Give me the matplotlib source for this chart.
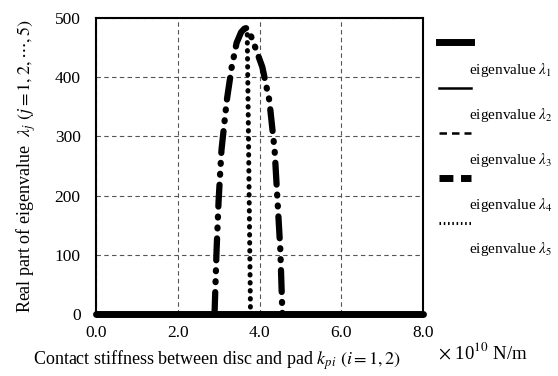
import matplotlib
matplotlib.use("Agg")
import matplotlib.pyplot as plt
from matplotlib.lines import Line2D
import numpy as np

plt.rcParams['font.family'] = ['Liberation Serif', 'DejaVu Serif']
plt.rcParams['mathtext.fontset'] = 'stix'

# Data (x in 1e10 N/m, y real part)
x_zero = [0.0, 8.0]
lam1_y = [0, 0]
lam2_y = [0, 0]
lam3_y = [0, 0]

lam4_x = [2.90, 2.95, 3.00, 3.07, 3.20, 3.32, 3.44, 3.55, 3.63, 3.68, 3.74, 3.83, 3.95, 4.07, 4.24, 4.37, 4.44, 4.51, 4.56]
lam4_y = [0, 108, 192, 277, 361, 417, 458, 476, 482, 483, 478, 463, 440, 417, 361, 277, 192, 108, 0]

lam5_x = [3.70, 3.72, 3.74, 3.76, 3.78]
lam5_y = [472, 360, 240, 120, 0]

xticks = [0, 2, 4, 6, 8]
xticklabels = ['0.0', '2.0', '4.0', '6.0', '8.0']
yticks = [0, 100, 200, 300, 400, 500]

fig = plt.figure(figsize=(5.58, 3.76), dpi=100)
ax = fig.add_axes([96/558, 1-314/376, (423-96)/558, (314-18)/376])

ax.plot(x_zero, lam1_y, color='black', lw=5, solid_capstyle='round', zorder=3, clip_on=False)
ax.plot(x_zero, lam2_y, color='black', lw=1.5, zorder=3)
ax.plot(x_zero, lam3_y, color='black', lw=1.5, ls='--', zorder=3)
ax.plot(lam4_x, lam4_y, color='black', lw=4.5, ls=(0, (3.5, 1.6, 0.15, 1.6, 0.15, 1.6)),
        dash_capstyle='round', zorder=4)
ax.plot(lam5_x, lam5_y, color='black', lw=3.6, ls=(0, (0.1, 1.5)), dash_capstyle='round', zorder=4)

ax.set_xlim(0, 8)
ax.set_ylim(0, 500)
ax.set_xticks(xticks)
ax.set_xticklabels(xticklabels)
ax.set_yticks(yticks)
ax.tick_params(length=0, labelsize=12.5)
ax.tick_params(axis='y', pad=11)
ax.tick_params(axis='x', pad=8)
ax.grid(True, ls=(0, (4, 3)), color='#555555', lw=0.8)
for s in ax.spines.values():
    s.set_linewidth(1.5)

ax.set_xlabel(r'Contact stiffness between disc and pad $k_{pi}$ $(i=1,2)$', fontsize=13, labelpad=5, x=0.37)
ax.set_ylabel(r'Real part of eigenvalue  $\lambda_j$ $(j=1,2,\cdots,5)$', fontsize=13, labelpad=12)
fig.text(438/558, 1-352/376, r'$\times$ 10$^{10}$ N/m', fontsize=13.5, va='center', ha='left')

# Legend (handle above text)
styles = [dict(lw=5), dict(lw=1.8), dict(lw=1.8, ls=(0, (3, 2))),
          dict(lw=5, ls=(0, (2.0, 1.1))), dict(lw=2.2, ls=(0, (0.5, 0.9)))]
handle_y = [42, 88, 133, 178, 223]
label_y = [70, 115, 160, 205, 249]
for i, (st, hy, ly) in enumerate(zip(styles, handle_y, label_y)):
    fig.add_artist(Line2D([439/558, 471/558], [1-hy/376, 1-hy/376], color='black', **st))
    fig.text(469/558, 1-ly/376, r'eigenvalue $\lambda_{%d}$' % (i+1), fontsize=11, va='center', ha='left')

fig.savefig('out.png', dpi=100)
